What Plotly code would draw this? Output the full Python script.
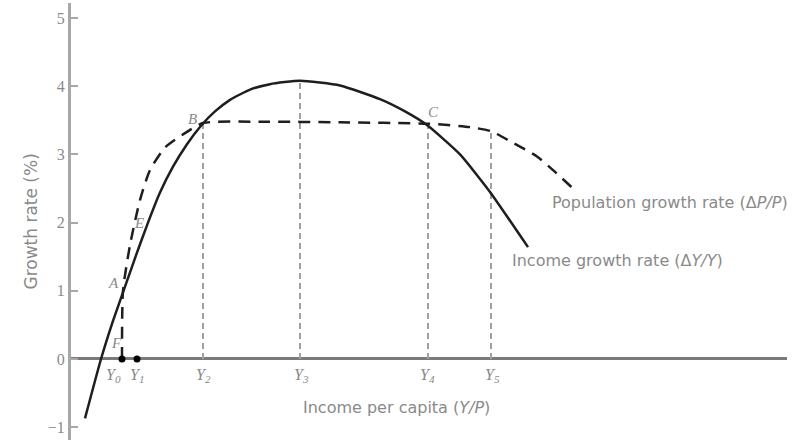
import plotly.graph_objects as go

# Income growth rate (ΔY/Y) curve
income_x = [1.4, 3.0, 4.2, 5.4, 6.5, 7.6, 8.9, 10.2, 11.6, 13.0, 14.4, 15.9, 17.9, 19.9, 22.9, 26.9, 30.9, 33.4, 35.6, 38.9, 41.9, 45.7]
income_y = [-0.87, 0.0, 0.56, 1.06, 1.52, 1.96, 2.44, 2.82, 3.15, 3.42, 3.63, 3.8, 3.95, 4.03, 4.08, 4.01, 3.81, 3.63, 3.43, 3.0, 2.45, 1.64]

# Population growth rate (ΔP/P) curve
pop_x = [5.1, 5.2, 5.9, 6.9, 7.9, 9.4, 11.6, 13.2, 18.9, 26.9, 35.7, 39.9, 42.0, 44.2, 46.6, 48.2, 50.2]
pop_y = [0.0, 1.0, 1.67, 2.33, 2.77, 3.1, 3.33, 3.46, 3.48, 3.47, 3.45, 3.4, 3.34, 3.17, 2.97, 2.77, 2.5]

# Income levels marked on the horizontal axis
level_names = ["Y<sub>0</sub>", "Y<sub>1</sub>", "Y<sub>2</sub>", "Y<sub>3</sub>", "Y<sub>4</sub>", "Y<sub>5</sub>"]
level_label_x = [4.2, 6.6, 13.2, 23.0, 35.6, 42.1]

# Vertical guide lines: x position and height
guide_x = [13.2, 22.9, 35.7, 42.0]
guide_top = [3.46, 4.08, 3.42, 3.34]

# Dots on the axis
dot_x = [5.1, 6.6]
dot_y = [0.0, 0.0]

# Point labels
point_names = ["A", "E", "F", "B", "C"]
point_x = [4.2, 6.8, 4.5, 12.1, 36.2]
point_y = [1.11, 2.0, 0.23, 3.52, 3.62]

y_ticks = [-1, 0, 1, 2, 3, 4, 5]

GRAY = "#8a8a8a"
DARK = "#1e1e1e"
SANS = "DejaVu Sans"

fig = go.Figure()

for gx, gt in zip(guide_x, guide_top):
    fig.add_trace(go.Scatter(x=[gx, gx], y=[0, gt], mode="lines",
                             line=dict(color="#a0a0a0", width=2, dash="6px,4px"),
                             showlegend=False, hoverinfo="skip"))

fig.add_trace(go.Scatter(x=income_x, y=income_y, mode="lines",
                         line=dict(color=DARK, width=2.5, shape="spline", smoothing=0.5),
                         showlegend=False))
fig.add_trace(go.Scatter(x=pop_x, y=pop_y, mode="lines",
                         line=dict(color=DARK, width=2.5, dash="12px,8px", shape="spline", smoothing=0.6),
                         showlegend=False))
fig.add_trace(go.Scatter(x=dot_x, y=dot_y, mode="markers",
                         marker=dict(color="black", size=7),
                         showlegend=False, cliponaxis=False))

annotations = []
for name, lx in zip(level_names, level_label_x):
    annotations.append(dict(x=lx, y=-0.235, xref="x", yref="y", text="<i>" + name + "</i>", showarrow=False,
                            font=dict(family="Liberation Serif", size=16, color=GRAY)))
for name, px, py in zip(point_names, point_x, point_y):
    annotations.append(dict(x=px, y=py, xref="x", yref="y", text="<i>" + name + "</i>", showarrow=False,
                            font=dict(family="Liberation Serif", size=15, color=GRAY)))
annotations += [
    dict(x=-0.074, y=0.50, xref="paper", yref="paper", text="Growth rate (%)", textangle=-90,
         showarrow=False, font=dict(family=SANS, size=17, color=GRAY)),
    dict(x=32.5, y=-0.71, xref="x", yref="y", text="Income per capita (<i>Y/P</i>)", showarrow=False,
         font=dict(family=SANS, size=16, color=GRAY)),
    dict(x=47.9, y=2.29, xref="x", yref="y", xanchor="left", text="Population growth rate (Δ<i>P/P</i>)",
         showarrow=False, font=dict(family=SANS, size=16, color=GRAY)),
    dict(x=43.9, y=1.45, xref="x", yref="y", xanchor="left", text="Income growth rate (Δ<i>Y/Y</i>)",
         showarrow=False, font=dict(family=SANS, size=16, color=GRAY)),
]

fig.update_layout(
    width=800, height=447,
    margin=dict(l=71, r=13, t=3, b=7),
    paper_bgcolor="white", plot_bgcolor="white",
    annotations=annotations,
    xaxis=dict(range=[0, 71.6], showgrid=False, zeroline=False, showticklabels=False,
               showline=False, fixedrange=True),
    yaxis=dict(range=[-1.188, 5.22], showgrid=False, tickvals=y_ticks,
               ticks="inside", ticklen=7, tickwidth=2, tickcolor="#a8a8a8",
               ticksuffix="  ",
               tickfont=dict(family="Liberation Serif", size=16, color=GRAY),
               showline=True, linecolor="#a8a8a8", linewidth=3,
               zeroline=True, zerolinecolor="#7a7a7a", zerolinewidth=3),
)

fig.write_html("out.html", config={"displayModeBar": False},
               post_script="document.body.style.margin='0';")
